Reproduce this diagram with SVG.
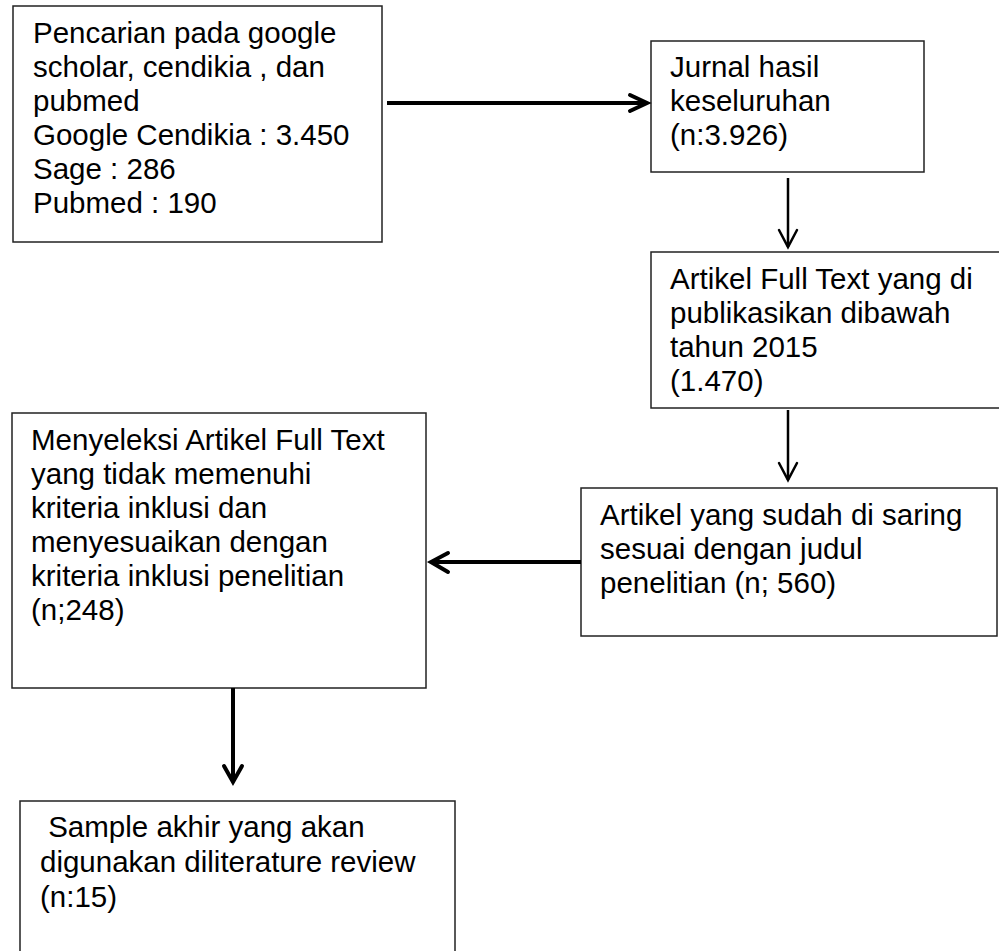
<svg xmlns="http://www.w3.org/2000/svg" width="999" height="951" viewBox="0 0 999 951">
<style>
.box{fill:#fff;stroke:#222;stroke-width:1.5}
.t{font-family:"Liberation Sans",Arial,sans-serif;font-size:29.5px;fill:#000}
.c{fill:none;stroke:#000;stroke-linecap:butt}
.thick{stroke-width:4}
.thin{stroke-width:2.5}
.head{fill:none;stroke:#000;stroke-linecap:round;stroke-linejoin:miter}
</style>
<rect width="999" height="951" fill="#fff"/>
<g id="n1">
<rect class="box" x="13" y="6" width="369" height="236"/>
<text class="t" x="33"><tspan x="33" y="43">Pencarian pada google</tspan><tspan x="33" y="77">scholar, cendikia , dan</tspan><tspan x="33" y="111">pubmed</tspan><tspan x="33" y="145">Google Cendikia : 3.450</tspan><tspan x="33" y="179">Sage : 286</tspan><tspan x="33" y="213">Pubmed : 190</tspan></text>
</g>
<g id="n2">
<rect class="box" x="651" y="41" width="273" height="131"/>
<text class="t"><tspan x="670" y="77">Jurnal hasil</tspan><tspan x="670" y="111">keseluruhan</tspan><tspan x="670" y="145">(n:3.926)</tspan></text>
</g>
<g id="n3">
<rect class="box" x="651" y="252" width="360" height="156"/>
<text class="t"><tspan x="670" y="289">Artikel Full Text yang di</tspan><tspan x="670" y="323">publikasikan dibawah</tspan><tspan x="670" y="357">tahun 2015</tspan><tspan x="670" y="391">(1.470)</tspan></text>
</g>
<g id="n4">
<rect class="box" x="12" y="413" width="414" height="275"/>
<text class="t"><tspan x="31" y="450">Menyeleksi Artikel Full Text</tspan><tspan x="31" y="484">yang tidak memenuhi</tspan><tspan x="31" y="518">kriteria inklusi dan</tspan><tspan x="31" y="552">menyesuaikan dengan</tspan><tspan x="31" y="586">kriteria inklusi penelitian</tspan><tspan x="31" y="620">(n;248)</tspan></text>
</g>
<g id="n5">
<rect class="box" x="581" y="488" width="416" height="148"/>
<text class="t"><tspan x="600" y="525">Artikel yang sudah di saring</tspan><tspan x="600" y="559">sesuai dengan judul</tspan><tspan x="600" y="593">penelitian (n; 560)</tspan></text>
</g>
<g id="n6">
<rect class="box" x="20" y="801" width="435" height="170"/>
<text class="t" xml:space="preserve"><tspan x="40" y="837"> Sample akhir yang akan</tspan><tspan x="40" y="872">digunakan diliterature review</tspan><tspan x="40" y="907">(n:15)</tspan></text>
</g>
<g id="connectors">
<line class="c thick" x1="387" y1="103" x2="646" y2="103"/>
<polyline class="head thick" points="630,95 647,103 630,111"/>
<line class="c thin" x1="788" y1="178" x2="788" y2="247"/>
<polyline class="head thin" points="779,230 788,247 797,230"/>
<line class="c thin" x1="788" y1="410" x2="788" y2="480"/>
<polyline class="head thin" points="779,463 788,480 797,463"/>
<line class="c thick" x1="581" y1="562" x2="431" y2="562"/>
<polyline class="head thick" points="448,553 431,562 448,572"/>
<line class="c thick" x1="233" y1="688" x2="233" y2="782"/>
<polyline class="head thick" points="224,766 233,782 242,766"/>
</g>
</svg>
